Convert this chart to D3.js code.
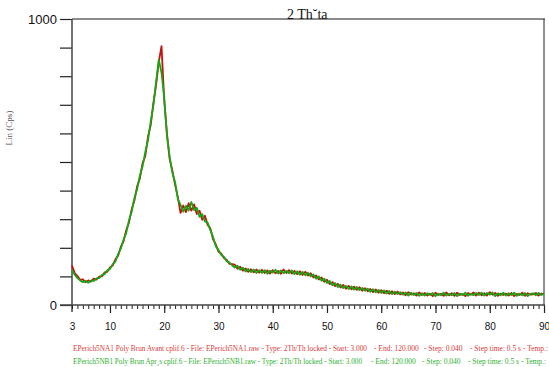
<!DOCTYPE html>
<html><head><meta charset="utf-8">
<script src="https://cdn.jsdelivr.net/npm/d3@7"></script>
<style>html,body{margin:0;padding:0;background:#fff;}svg{display:block;}</style>
</head><body>
<script>
// ---- data ----
const thetaStart = 3, thetaStep = 0.5, thetaEnd = 90;
const twoTheta = d3.range(thetaStart, thetaEnd + 0.001, thetaStep);
const seriesNames = ["EPerich5NA1", "EPerich5NB1"];
const countsNA1 = [
 138,112,101,88,90,80,86,82,92,89,
 99,100,114,116,131,138,160,172,204,222,
 262,288,335,365,415,442,495,520,588,628,
 706,770,850,905,716,600,510,470,420,378,
 322,348,325,356,330,352,318,330,298,312,
 280,268,230,212,186,180,164,158,144,143,
 141,127,134,120,128,116,125,114,124,113,
 123,112,121,110,122,111,119,109,124,112,
 122,110,119,108,118,105,116,103,111,96,
 103,89,96,81,88,73,80,66,74,61,
 70,57,67,55,64,53,62,50,59,48,
 56,45,54,43,52,41,50,39,48,38,
 47,37,44,34,45,36,41,33,44,35,
 42,33,40,31,43,35,39,32,44,34,
 41,32,43,35,38,31,42,36,44,33,
 43,34,41,33,45,36,42,32,40,35,
 40,33,42,31,39,35,43,32,41,36,
 37,42,33,40,38
];
const countsNB1 = [
 122,106,94,86,80,84,78,86,84,93,
 94,105,108,121,126,143,152,178,197,228,
 252,296,326,374,404,452,484,534,576,640,
 698,780,858,812,724,592,518,462,430,372,
 350,326,347,330,360,332,340,308,318,292,
 288,262,238,205,193,175,169,153,149,139,
 131,137,123,130,117,126,115,124,112,122,
 112,122,109,120,113,123,110,121,111,119,
 111,121,108,118,106,116,104,113,100,107,
 92,100,85,92,77,84,69,77,63,71,
 59,67,56,65,54,63,52,60,50,57,
 46,55,44,53,42,51,40,49,38,47,
 38,45,36,44,33,43,35,42,32,41,
 33,41,35,42,31,40,34,43,33,39,
 34,42,31,40,35,43,32,39,34,42,
 35,43,33,42,36,44,31,41,34,43,
 33,41,35,43,32,40,34,42,31,39,
 41,34,42,35,39
];
const xTickLabels = [3, 10, 20, 30, 40, 50, 60, 70, 80, 90];
const yTicks = [0,100,200,300,400,500,600,700,800,900,1000];
const yTickLabels = [0, 1000];
const titleText = "2 Th\u02D8ta";
const yAxisTitle = "Lin (Cps)";
const legendRed = ["EPerich5NA1  Poly Brun Avant cplif.6 - File: EPerich5NA1.raw - Type: 2Th/Th locked - Start: 3.000",
  "- End: 120.000", "- Step: 0.040", "- Step time: 0.5 s - Temp.:"];
const legendGreen = ["EPerich5NB1  Poly Brun Apr\u00B8s cplif.6 - File: EPerich5NB1.raw - Type: 2Th/Th locked - Start: 3.000",
  "- End: 120.000", "- Step: 0.040", "- Step time: 0.5 s - Temp.:"];

// ---- layout ----
const W = 549, H = 367;
const L = 72, R = 544, T = 19, B = 305;
const svg = d3.select("body").append("svg").attr("width", W).attr("height", H);
svg.append("rect").attr("width", W).attr("height", H).attr("fill", "#fff");

const x = d3.scaleLinear().domain([3, 90]).range([L, R]);
const y = d3.scaleLinear().domain([0, 1000]).range([B, T]);

// frame
svg.append("line").attr("x1", L).attr("x2", R + 1).attr("y1", T).attr("y2", T).attr("stroke", "#666").attr("stroke-width", 1.6);
svg.append("line").attr("x1", R).attr("x2", R).attr("y1", T).attr("y2", B).attr("stroke", "#222").attr("stroke-width", 1);

// y axis
const yAxis = d3.axisLeft(y).tickValues(yTicks).tickSize(12)
  .tickFormat(d => yTickLabels.includes(d) ? d : "");
const gy = svg.append("g").attr("transform", `translate(${L},0)`).call(yAxis);
gy.select(".domain").remove();
gy.selectAll(".tick line").attr("stroke", "#222").attr("stroke-width", 1.2);
gy.selectAll(".tick text").attr("font-family", "Liberation Sans, Arial, sans-serif").attr("font-size", 13).attr("fill", "#111").attr("x", -15);
svg.append("line").attr("x1", L).attr("x2", L).attr("y1", T).attr("y2", B + 7).attr("stroke", "#444").attr("stroke-width", 1.5);

// x axis
const minorTicks = d3.range(3, 91, 1);
const gxm = svg.append("g").attr("transform", `translate(0,${B})`)
  .call(d3.axisBottom(x).tickValues(minorTicks).tickSize(4).tickFormat(""));
gxm.select(".domain").remove();
gxm.selectAll(".tick line").attr("stroke", "#222").attr("stroke-width", 1);
const gx = svg.append("g").attr("transform", `translate(0,${B})`)
  .call(d3.axisBottom(x).tickValues(xTickLabels).tickSize(8).tickPadding(10));
gx.select(".domain").remove();
gx.selectAll(".tick line").attr("stroke", "#222").attr("stroke-width", 1.2)
  .attr("y2", d => d === 3 ? 0 : 8);
gx.selectAll(".tick text").attr("font-family", "Liberation Sans, Arial, sans-serif").attr("font-size", 10).attr("fill", "#111");
svg.append("line").attr("x1", 60).attr("x2", R + 1).attr("y1", B).attr("y2", B).attr("stroke", "#444").attr("stroke-width", 1.5);

// title
svg.append("text").attr("x", 287).attr("y", 19).text(titleText)
  .attr("font-family", "Liberation Serif, Times New Roman, serif").attr("font-size", 14).attr("fill", "#111");
// y axis title
svg.append("text").attr("transform", "translate(12,128) rotate(-90)").attr("text-anchor", "middle")
  .text(yAxisTitle).attr("font-family", "Liberation Serif, serif").attr("font-size", 9).attr("fill", "#555");

// series
const line = d3.line().x((d, i) => x(twoTheta[i])).y(d => y(d));
svg.append("path").datum(countsNA1).attr("d", line).attr("fill", "none")
  .attr("stroke", "#cc1010").attr("stroke-width", 1.8).attr("stroke-linejoin", "round");
svg.append("path").datum(countsNB1).attr("d", line).attr("fill", "none")
  .attr("stroke", "#14a814").attr("stroke-width", 1.8).attr("stroke-linejoin", "round");

// legend
function legendRow(parts, yy, color, mainEnd, xs) {
  const g = svg.append("g").attr("font-family", "Liberation Serif, Times New Roman, serif").attr("font-size", 7.5).attr("fill", color);
  g.append("text").attr("x", 73).attr("y", yy).text(parts[0])
    .attr("textLength", mainEnd - 73).attr("lengthAdjust", "spacingAndGlyphs");
  for (let k = 1; k < parts.length; k++) g.append("text").attr("x", xs[k - 1]).attr("y", yy).text(parts[k]);
}
legendRow(legendRed, 351, "#d83a3a", 367, [374, 424, 470]);
legendRow(legendGreen, 364, "#2eb02e", 362, [371, 422, 468]);
</script>
</body></html>
